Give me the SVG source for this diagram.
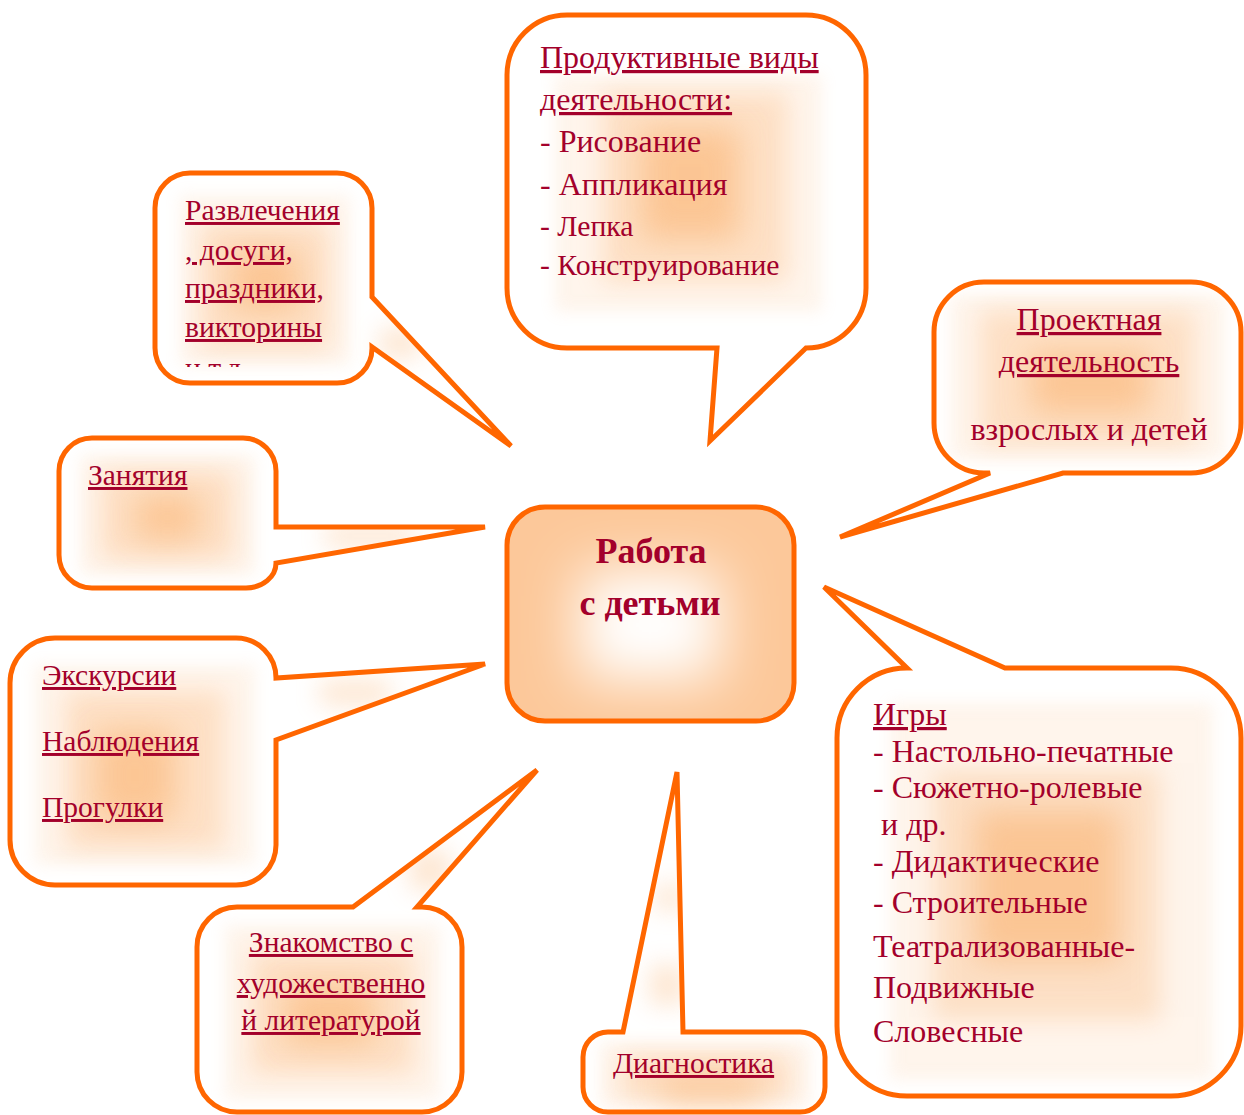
<svg xmlns="http://www.w3.org/2000/svg" xmlns:xlink="http://www.w3.org/1999/xlink" width="1244" height="1115" viewBox="0 0 1244 1115">
<style>
.bg{fill:#ffffff;stroke:none}
.ol{fill:none;stroke:#FF6600;stroke-width:5;stroke-linejoin:miter;stroke-miterlimit:4}
.g1{fill:#FBBF88;opacity:0.16;filter:url(#b1)}
.g2{fill:#FBBF88;opacity:0.38;filter:url(#b2)}
.g3{fill:#FBBF88;opacity:0.8;filter:url(#b3)}
.t{font-family:"Liberation Serif","Times New Roman",serif;fill:#A3002B;font-size:29.5px}
.m{font-size:32px}
.u{text-decoration:underline}
.b{font-weight:bold;font-size:36px}
</style>
<defs>
<filter id="b1" x="-100%" y="-100%" width="300%" height="300%"><feGaussianBlur stdDeviation="8"/></filter>
<filter id="b2" x="-100%" y="-100%" width="300%" height="300%"><feGaussianBlur stdDeviation="12"/></filter>
<filter id="b3" x="-100%" y="-100%" width="300%" height="300%"><feGaussianBlur stdDeviation="16"/></filter>
<filter id="blurW" x="-100%" y="-100%" width="300%" height="300%"><feGaussianBlur stdDeviation="28"/></filter>
<path id="s1" d="M190,173 H337 A35,35 0 0 1 372,208 V297 L511,446 L372,347 A35,35 0 0 1 337,383 H190 A35,35 0 0 1 155,348 V208 A35,35 0 0 1 190,173 Z"/>
<path id="s2" d="M567,15 H806 A60,60 0 0 1 866,75 V288 A60,60 0 0 1 806,348 L710,441 L717,348 H567 A60,60 0 0 1 507,288 V75 A60,60 0 0 1 567,15 Z"/>
<path id="s3" d="M984,282 H1191 A50,50 0 0 1 1241,332 V423 A50,50 0 0 1 1191,473 H1063 L840,537 L990,473 H984 A50,50 0 0 1 934,423 V332 A50,50 0 0 1 984,282 Z"/>
<path id="s4" d="M545,507 H756 A38,38 0 0 1 794,545 V683 A38,38 0 0 1 756,721 H545 A38,38 0 0 1 507,683 V545 A38,38 0 0 1 545,507 Z"/>
<path id="s5" d="M837,738 A70,70 0 0 1 907,668 L824,587 L1005,668 H1171 A70,70 0 0 1 1241,738 V1026 A70,70 0 0 1 1171,1096 H907 A70,70 0 0 1 837,1026 Z"/>
<path id="s6" d="M92,438 H243 A33,33 0 0 1 276,471 V527 L485,527 L276,563 A30,25 0 0 1 246,588 H92 A33,33 0 0 1 59,555 V471 A33,33 0 0 1 92,438 Z"/>
<path id="s7" d="M55,638 H236 A40,40 0 0 1 276,678 L485,664 L276,740 V845 A40,40 0 0 1 236,885 H55 A45,45 0 0 1 10,840 V683 A45,45 0 0 1 55,638 Z"/>
<path id="s8" d="M237,907 H353 L537,770 L417,907 H422 A40,40 0 0 1 462,947 V1072 A40,40 0 0 1 422,1112 H237 A40,40 0 0 1 197,1072 V947 A40,40 0 0 1 237,907 Z"/>
<path id="s9" d="M608,1032 H623 L677,772 L683,1032 H800 A25,25 0 0 1 825,1057 V1087 A25,25 0 0 1 800,1112 H608 A25,25 0 0 1 583,1087 V1057 A25,25 0 0 1 608,1032 Z"/>
<clipPath id="c1"><use xlink:href="#s1"/></clipPath>
<clipPath id="c2"><use xlink:href="#s2"/></clipPath>
<clipPath id="c3"><use xlink:href="#s3"/></clipPath>
<clipPath id="c4"><use xlink:href="#s4"/></clipPath>
<clipPath id="c5"><use xlink:href="#s5"/></clipPath>
<clipPath id="c6"><use xlink:href="#s6"/></clipPath>
<clipPath id="c7"><use xlink:href="#s7"/></clipPath>
<clipPath id="c8"><use xlink:href="#s8"/></clipPath>
<clipPath id="c9"><use xlink:href="#s9"/></clipPath>
<clipPath id="cut1"><rect x="150" y="170" width="230" height="197"/></clipPath>
</defs>
<rect width="1244" height="1115" fill="#ffffff"/>

<g id="connectors"></g>

<g id="node-razvlecheniya">
<use xlink:href="#s1" class="bg"/>
<g clip-path="url(#c1)">
<rect class="g1" x="180" y="195" width="170" height="170"/>
<rect class="g2" x="200" y="222" width="130" height="128"/>
<rect class="g3" x="230" y="250" width="70" height="62"/>
<rect class="g2" x="380" y="328" width="40" height="30"/>
</g>
<use xlink:href="#s1" class="ol"/>
<text class="t u" x="185" y="220">Развлечения</text>
<text class="t u" x="185" y="260">, досуги,</text>
<text class="t u" x="185" y="298">праздники,</text>
<text class="t u" x="185" y="337">викторины</text>
<text class="t" x="185" y="378" clip-path="url(#cut1)">и т.д.</text>
</g>

<g id="node-produktivnye">
<use xlink:href="#s2" class="bg"/>
<g clip-path="url(#c2)">
<rect class="g1" x="555" y="75" width="267" height="237"/>
<rect class="g2" x="602" y="92" width="186" height="190"/>
<rect class="g3" x="640" y="128" width="100" height="112"/>
</g>
<use xlink:href="#s2" class="ol"/>
<text class="t u m" x="540" y="68">Продуктивные виды</text>
<text class="t u m" x="540" y="110">деятельности:</text>
<text class="t m" x="540" y="152">- Рисование</text>
<text class="t m" x="540" y="195">- Аппликация</text>
<text class="t" x="540" y="236" style="font-size:29.7px">- Лепка</text>
<text class="t" x="540" y="275" style="font-size:29.7px">- Конструирование</text>
</g>

<g id="node-proektnaya">
<use xlink:href="#s3" class="bg"/>
<g clip-path="url(#c3)">
<rect class="g1" x="950" y="295" width="275" height="165"/>
<rect class="g2" x="980" y="310" width="215" height="135"/>
<rect class="g3" x="1030" y="352" width="120" height="62"/>
</g>
<use xlink:href="#s3" class="ol"/>
<text class="t u m" x="1089" y="330" text-anchor="middle">Проектная</text>
<text class="t u m" x="1089" y="372" text-anchor="middle">деятельность</text>
<text class="t m" x="1089" y="440" text-anchor="middle">взрослых и детей</text>
</g>

<g id="node-center">
<use xlink:href="#s4" fill="#FCC89A"/>
<g clip-path="url(#c4)"><rect x="580" y="570" width="140" height="110" fill="#ffffff" filter="url(#blurW)"/></g>
<use xlink:href="#s4" class="ol"/>
<text class="t b" x="651" y="563" text-anchor="middle">Работа</text>
<text class="t b" x="650" y="615" text-anchor="middle">с детьми</text>
</g>

<g id="node-igry">
<use xlink:href="#s5" class="bg"/>
<g clip-path="url(#c5)">
<rect class="g1" x="890" y="703" width="323" height="377"/>
<rect class="g2" x="933" y="770" width="227" height="250"/>
<rect class="g3" x="975" y="810" width="145" height="150"/>
</g>
<use xlink:href="#s5" class="ol"/>
<text class="t u m" x="873" y="725">Игры</text>
<text class="t m" x="873" y="762">- Настольно-печатные</text>
<text class="t m" x="873" y="798">- Сюжетно-ролевые</text>
<text class="t m" x="881" y="835">и др.</text>
<text class="t m" x="873" y="872">- Дидактические</text>
<text class="t m" x="873" y="913">- Строительные</text>
<text class="t m" x="873" y="957">Театрализованные-</text>
<text class="t m" x="873" y="998">Подвижные</text>
<text class="t m" x="873" y="1042">Словесные</text>
</g>

<g id="node-zanyatiya">
<use xlink:href="#s6" class="bg"/>
<g clip-path="url(#c6)">
<rect class="g1" x="80" y="455" width="175" height="120"/>
<rect class="g2" x="100" y="470" width="135" height="90"/>
<rect class="g3" x="135" y="495" width="65" height="45"/>
<rect class="g2" x="325" y="525" width="90" height="22"/>
</g>
<use xlink:href="#s6" class="ol"/>
<text class="t u" x="88" y="485">Занятия</text>
</g>

<g id="node-ekskursii">
<use xlink:href="#s7" class="bg"/>
<g clip-path="url(#c7)">
<rect class="g1" x="35" y="665" width="220" height="200"/>
<rect class="g2" x="65" y="690" width="160" height="160"/>
<rect class="g3" x="95" y="730" width="80" height="90"/>
<rect class="g2" x="320" y="680" width="70" height="25"/>
</g>
<use xlink:href="#s7" class="ol"/>
<text class="t u" x="42" y="685">Экскурсии</text>
<text class="t u" x="42" y="751">Наблюдения</text>
<text class="t u" x="42" y="817">Прогулки</text>
</g>

<g id="node-znakomstvo">
<use xlink:href="#s8" class="bg"/>
<g clip-path="url(#c8)">
<rect class="g1" x="225" y="925" width="215" height="175"/>
<rect class="g2" x="250" y="950" width="165" height="125"/>
<rect class="g3" x="285" y="985" width="90" height="60"/>
<rect class="g2" x="410" y="850" width="40" height="40"/>
</g>
<use xlink:href="#s8" class="ol"/>
<text class="t u" x="331" y="952" text-anchor="middle">Знакомство с</text>
<text class="t u" x="331" y="993" text-anchor="middle">художественно</text>
<text class="t u" x="331" y="1030" text-anchor="middle">й литературой</text>
</g>

<g id="node-diagnostika">
<use xlink:href="#s9" class="bg"/>
<g clip-path="url(#c9)">
<rect class="g1" x="600" y="1042" width="210" height="65"/>
<rect class="g2" x="620" y="1055" width="170" height="45"/>
<rect class="g3" x="660" y="1075" width="100" height="25"/>
<rect class="g2" x="655" y="885" width="30" height="25"/>
<rect class="g2" x="650" y="965" width="35" height="40"/>
</g>
<use xlink:href="#s9" class="ol"/>
<text class="t u" x="613" y="1073">Диагностика</text>
</g>
</svg>
